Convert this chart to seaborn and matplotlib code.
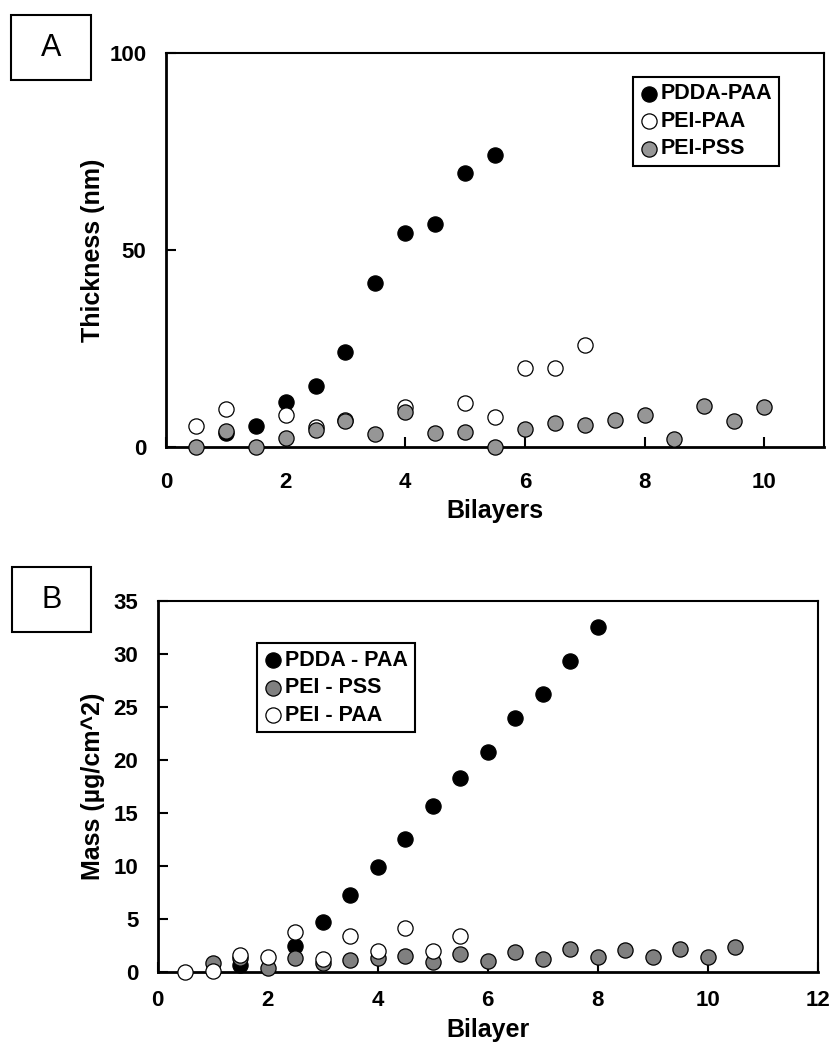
import numpy as np
import pandas as pd
import seaborn as sns
import matplotlib
matplotlib.use("Agg")
import matplotlib.pyplot as plt
from matplotlib.patches import Rectangle

# ---------------- data: panel A (thickness) ----------------
a_pdda_x = [1, 1.5, 2, 2.5, 3, 3.5, 4, 4.5, 5, 5.5]
a_pdda_y = [3.5, 5.4, 11.5, 15.5, 24.2, 41.7, 54.2, 56.7, 69.5, 74.1]
a_peipaa_x = [0.5, 1, 2, 2.5, 3, 4, 5, 5.5, 6, 6.5, 7]
a_peipaa_y = [5.4, 9.6, 8.0, 5.2, 6.8, 10.2, 11.1, 7.7, 20.0, 20.0, 25.8]
a_peipss_x = [0.5, 1, 1.5, 2, 2.5, 3, 3.5, 4, 4.5, 5, 5.5, 6, 6.5, 7, 7.5, 8, 8.5, 9, 9.5, 10]
a_peipss_y = [0.0, 4.1, 0.0, 2.2, 4.3, 6.6, 3.2, 8.8, 3.5, 3.9, 0.0, 4.5, 6.2, 5.6, 6.9, 8.1, 2.0, 10.4, 6.7, 10.1]
a_labels = ["PDDA-PAA", "PEI-PAA", "PEI-PSS"]

# ---------------- data: panel B (mass) ----------------
b_pdda_x = [1.5, 2.5, 3, 3.5, 4, 4.5, 5, 5.5, 6, 6.5, 7, 7.5, 8]
b_pdda_y = [0.63, 2.43, 4.7, 7.2, 9.9, 12.5, 15.6, 18.3, 20.7, 24.0, 26.2, 29.3, 32.5]
b_peipss_x = [1, 1.5, 2, 2.5, 3, 3.5, 4, 4.5, 5, 5.5, 6, 6.5, 7, 7.5, 8, 8.5, 9, 9.5, 10, 10.5]
b_peipss_y = [0.8, 1.26, 0.38, 1.26, 0.8, 1.1, 1.26, 1.48, 0.89, 1.64, 1.0, 1.83, 1.2, 2.1, 1.42, 2.05, 1.42, 2.1, 1.42, 2.3]
b_peipaa_x = [0.5, 1, 1.5, 2, 2.5, 3, 3.5, 4, 4.5, 5, 5.5]
b_peipaa_y = [0.0, 0.1, 1.58, 1.36, 3.78, 1.17, 3.37, 1.96, 4.1, 1.96, 3.37]
b_labels = ["PDDA - PAA", "PEI - PSS", "PEI - PAA"]

a_xticks = [0, 2, 4, 6, 8, 10]
a_yticks = [0, 50, 100]
b_xticks = [0, 2, 4, 6, 8, 10, 12]
b_yticks = [0, 5, 10, 15, 20, 25, 30, 35]

sns.set_theme(style="white")
plt.rcParams["font.family"] = ["Liberation Sans", "DejaVu Sans"]
plt.rcParams["font.weight"] = "bold"

W, H = 832, 1042
fig = plt.figure(figsize=(W / 100, H / 100), dpi=100)


def px_axes(l, t, r, b):
    return fig.add_axes([l / W, 1 - b / H, (r - l) / W, (b - t) / H])


axA = px_axes(166, 53, 824, 447)
axB = px_axes(157.7, 601, 817.7, 971.7)

S = 120
LW = 0.9
GRAY_A = "#969696"
GRAY_B = "#808080"

# Panel A
sns.scatterplot(x=a_pdda_x, y=a_pdda_y, ax=axA, color="black", edgecolor="black",
                linewidth=LW, s=S, label=a_labels[0], clip_on=False, zorder=3)
sns.scatterplot(x=a_peipaa_x, y=a_peipaa_y, ax=axA, color="white", edgecolor="black",
                linewidth=LW, s=S, label=a_labels[1], clip_on=False, zorder=3)
sns.scatterplot(x=a_peipss_x, y=a_peipss_y, ax=axA, color=GRAY_A, edgecolor="black",
                linewidth=LW, s=S, label=a_labels[2], clip_on=False, zorder=3)

# Panel B
sns.scatterplot(x=b_pdda_x, y=b_pdda_y, ax=axB, color="black", edgecolor="black",
                linewidth=LW, s=S, label=b_labels[0], clip_on=False, zorder=3)
sns.scatterplot(x=b_peipss_x, y=b_peipss_y, ax=axB, color=GRAY_B, edgecolor="black",
                linewidth=LW, s=S, label=b_labels[1], clip_on=False, zorder=3)
sns.scatterplot(x=b_peipaa_x, y=b_peipaa_y, ax=axB, color="white", edgecolor="black",
                linewidth=LW, s=S, label=b_labels[2], clip_on=False, zorder=3)


def style_axes(ax, xlim, ylim, xticks, yticks, xlabel, ylabel, xpad, ypad,
               xlab_y, ylab_x):
    ax.set_xlim(*xlim)
    ax.set_ylim(*ylim)
    ax.set_xticks(xticks)
    ax.set_yticks(yticks)
    for side in ["left", "bottom"]:
        ax.spines[side].set_linewidth(2.0)
        ax.spines[side].set_color("black")
    for side in ["top", "right"]:
        ax.spines[side].set_linewidth(1.5)
        ax.spines[side].set_color("black")
    ax.tick_params(axis="both", direction="in", length=7, width=1.5, color="black",
                   labelsize=16, labelcolor="black")
    ax.tick_params(axis="x", pad=xpad, bottom=True)
    ax.tick_params(axis="y", pad=ypad, left=True)
    for lab in ax.get_xticklabels() + ax.get_yticklabels():
        lab.set_fontweight("bold")
    ax.set_xlabel(xlabel, fontsize=18, fontweight="bold", color="black", va="center")
    ax.set_ylabel(ylabel, fontsize=18, fontweight="bold", color="black", va="center")
    ax.xaxis.set_label_coords(0.5, xlab_y)
    ax.yaxis.set_label_coords(ylab_x, 0.5)
    ax.set_facecolor("white")


style_axes(axA, (0, 11), (0, 100), a_xticks, a_yticks, "Bilayers", "Thickness (nm)",
           xpad=18, ypad=14, xlab_y=(447 - 511) / 394, ylab_x=(93 - 166) / 658)
style_axes(axB, (0, 12), (0, 35), b_xticks, b_yticks, "Bilayer", "Mass (µg/cm^2)",
           xpad=13, ypad=14, xlab_y=(971.7 - 1030) / 370.7, ylab_x=(93 - 157.7) / 660)


def style_legend(ax, anchor):
    leg = ax.legend(loc="upper left", bbox_to_anchor=anchor, frameon=True, fancybox=False,
                    edgecolor="black", framealpha=1, borderpad=0.3, handletextpad=0.1,
                    handlelength=0.9, labelspacing=0.3, borderaxespad=0,
                    markerscale=1.0, prop={"weight": "bold", "size": 15.5})
    leg.get_frame().set_linewidth(1.5)
    for t in leg.get_texts():
        t.set_color("black")


style_legend(axA, ((632.7 - 166) / 658, (447 - 77) / 394))
style_legend(axB, ((257.3 - 157.7) / 660, (971.7 - 643.3) / 370.7))

# panel letter boxes
for (l, t, r, b, letter) in [(11, 15, 91, 80, "A"), (12, 567, 91, 632, "B")]:
    fig.add_artist(Rectangle((l / W, 1 - b / H), (r - l) / W, (b - t) / H,
                             transform=fig.transFigure, facecolor="white",
                             edgecolor="black", linewidth=1.5))
    fig.text((l + r) / 2 / W, 1 - (t + b) / 2 / H, letter, ha="center", va="center",
             fontsize=22, fontweight="normal", color="black")

fig.savefig("out.png", dpi=100, facecolor="white")
